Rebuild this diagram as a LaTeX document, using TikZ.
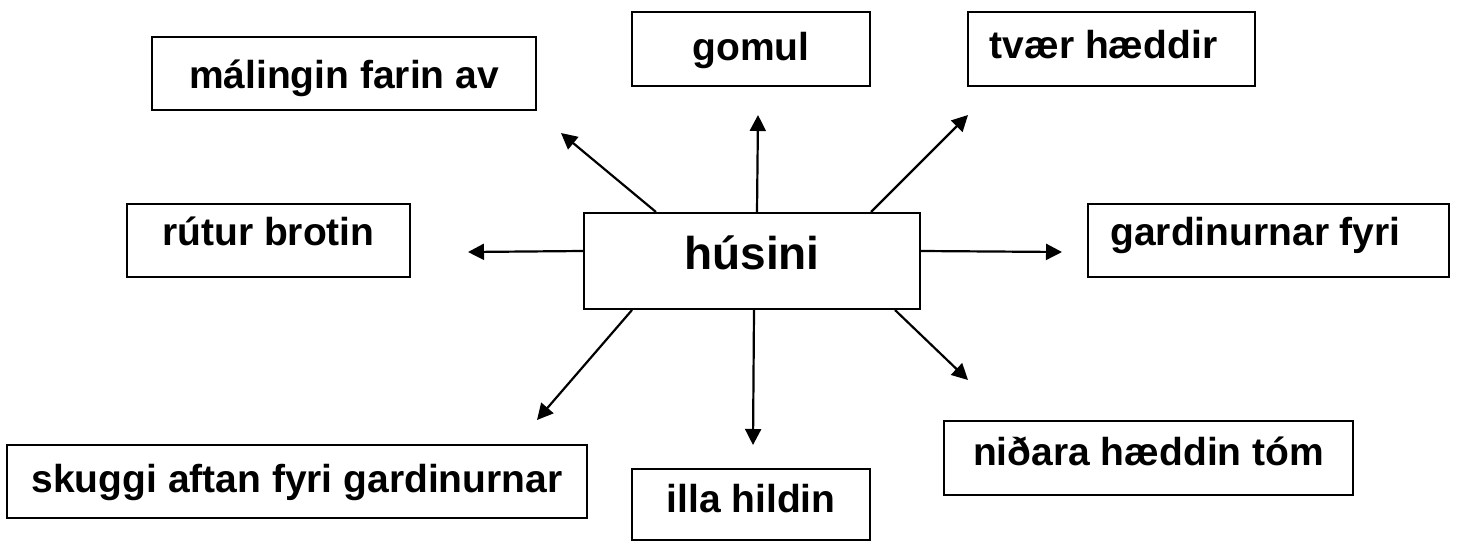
\documentclass[tikz,border=0pt]{standalone}
\usepackage{fontspec}
\setmainfont{Liberation Sans}
\usetikzlibrary{arrows.meta,calc}
\begin{document}
\begin{tikzpicture}[x=1pt,y=-1pt,
  box/.style={draw,line width=2pt,inner sep=0pt,text depth=0pt,
    font=\bfseries\fontsize{39}{39}\selectfont},
  arr/.style={line width=2.2pt,-{Triangle[length=16pt,width=16pt]}}]
\useasboundingbox[fill=white] (0,0) rectangle (1459,541);
% centre
\node[box,minimum width=336pt,minimum height=96pt,text height=16pt,
  font=\bfseries\fontsize{46}{46}\selectfont] (c) at (752,261) {húsini};
% outer boxes
\node[box,minimum width=384pt,minimum height=73pt,text height=29pt] (m) at (344,73.5) {málingin farin av};
\node[box,minimum width=238pt,minimum height=74pt,text height=22pt] (g) at (751,49) {gomul};
\node[box,minimum width=287pt,minimum height=74pt,text height=18pt] (t) at (1111.5,49) {\hspace*{-16pt}tvær hæddir};
\node[box,minimum width=283pt,minimum height=73pt,text height=9pt] (r) at (268.5,240.5) {rútur brotin};
\node[box,minimum width=361pt,minimum height=73pt,text height=9pt] (gf) at (1268.5,240.5) {\hspace*{-26pt}gardinurnar fyri};
\node[box,minimum width=580pt,minimum height=73pt,text height=21pt] (s) at (297,481.5) {skuggi aftan fyri gardinurnar};
\node[box,minimum width=238pt,minimum height=71pt,text height=15pt] (i) at (751,504.5) {illa hildin};
\node[box,minimum width=409pt,minimum height=74pt,text height=14pt] (n) at (1148.5,458) {niðara hæddin tóm};
% arrow tips
\coordinate (tNW) at (561,133);
\coordinate (tN) at (758,115);
\coordinate (tNE) at (968,115);
\coordinate (tSW) at (537,420);
\coordinate (tS) at (753,445);
\coordinate (tSE) at (968,380);
\coordinate (tW) at (468,252);
\coordinate (tE) at (1062,252);
% arrows
\draw[arr] ($(c.north west)+(73,0)$) -- (tNW);
\draw[arr] ($(c.north west)+(174,0)$) -- (tN);
\draw[arr] ($(c.north west)+(288,0)$) -- (tNE);
\draw[arr] ($(c.south west)+(49,0)$) -- (tSW);
\draw[arr] ($(c.south west)+(171,0)$) -- (tS);
\draw[arr] ($(c.south west)+(312,0)$) -- (tSE);
\draw[arr] ($(c.north west)+(0,39)$) -- (tW);
\draw[arr] ($(c.north east)+(0,39)$) -- (tE);
\end{tikzpicture}
\end{document}
